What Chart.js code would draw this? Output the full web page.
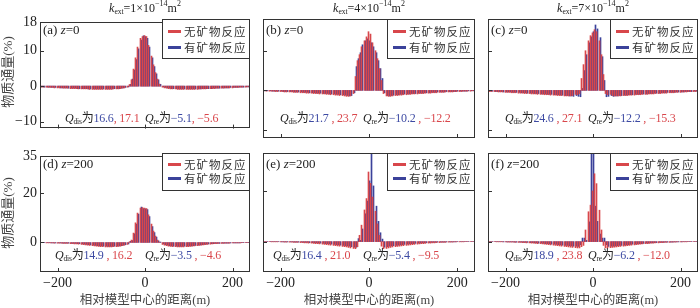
<!DOCTYPE html>
<html>
<head>
<meta charset="utf-8">
<script src="https://cdn.jsdelivr.net/npm/chart.js@4"></script>
<style>
  body { margin: 0; background: #fff; }
  #wrap { position: relative; width: 700px; height: 308px; overflow: hidden; background: #fff; }
  canvas { position: absolute; }
  .txt { position: absolute; white-space: nowrap; color: #222;
         font-family: 'Liberation Serif', 'Noto Sans CJK SC', serif; }
  .sub { font-size: 7.5px; vertical-align: -2px; line-height: 0; }
  .sup { font-size: 8px; vertical-align: 6px; line-height: 0; }
  .legend { position: absolute; box-sizing: border-box; border: 1px solid #333; background: #fff; }
  .sw { position: absolute; width: 13px; height: 3px; }
  .lt { position: absolute; font-family: 'Noto Sans CJK SC', sans-serif; font-size: 11.5px;
        letter-spacing: 1px; line-height: 14px; color: #333; white-space: nowrap; }
  .b { color: #3d4aa3; }
  .r { color: #d9464b; }
  .q { letter-spacing: -0.2px; }
</style>
</head>
<body>
<div id="wrap"></div>
<script>
// distance from model centre (m), one bar pair per position
const dist = [
  -240,-235,-230,-225,-220,-215,-210,-205,-200,-195,
  -190,-185,-180,-175,-170,-165,-160,-155,-150,-145,
  -140,-135,-130,-125,-120,-115,-110,-105,-100,-95,
  -90,-85,-80,-75,-70,-65,-60,-55,-50,-45,
  -40,-35,-30,-25,-20,-15,-10,-5,0,5,
  10,15,20,25,30,35,40,45,50,55,
  60,65,70,75,80,85,90,95,100,105,
  110,115,120,125,130,135,140,145,150,155,
  160,165,170,175,180,185,190,195,200,205,
  210,215,220,225,230,235,240
];

// (a) k=1e-14, z=0
const aBlue = [
  -0.2,-0.2,-0.3,-0.3,-0.3,-0.4,-0.4,-0.4,-0.4,-0.5,
  -0.5,-0.5,-0.5,-0.6,-0.6,-0.6,-0.6,-0.7,-0.7,-0.7,
  -0.7,-0.7,-0.8,-0.8,-0.8,-0.8,-0.8,-0.8,-0.8,-0.8,
  -0.8,-0.8,-0.8,-0.8,-0.7,-0.7,-0.7,-0.6,-0.5,-0.4,
  -0.2,0.5,2.0,4.5,7.5,10.5,13.0,14.2,14.0,13.5,
  11.0,8.0,5.5,3.5,1.8,0.5,-0.2,-0.4,-0.5,-0.6,
  -0.7,-0.7,-0.7,-0.8,-0.8,-0.8,-0.8,-0.8,-0.8,-0.8,
  -0.8,-0.8,-0.8,-0.8,-0.7,-0.7,-0.7,-0.7,-0.7,-0.6,
  -0.6,-0.6,-0.6,-0.5,-0.5,-0.5,-0.5,-0.4,-0.4,-0.4,
  -0.4,-0.3,-0.3,-0.3,-0.2,-0.2,-0.2
];
const aRed = [
  -0.2,-0.3,-0.3,-0.3,-0.4,-0.4,-0.4,-0.5,-0.5,-0.5,
  -0.5,-0.6,-0.6,-0.6,-0.7,-0.7,-0.7,-0.7,-0.8,-0.8,
  -0.8,-0.8,-0.8,-0.9,-0.9,-0.9,-0.9,-0.9,-0.9,-0.9,
  -0.9,-0.9,-0.9,-0.9,-0.8,-0.8,-0.8,-0.7,-0.6,-0.5,
  -0.3,0.4,1.8,4.8,8.0,11.0,13.5,14.0,14.3,14.0,
  11.5,8.5,6.0,3.8,2.0,0.6,-0.3,-0.5,-0.6,-0.7,
  -0.8,-0.8,-0.8,-0.9,-0.9,-0.9,-0.9,-0.9,-0.9,-0.9,
  -0.9,-0.9,-0.9,-0.8,-0.8,-0.8,-0.8,-0.7,-0.7,-0.7,
  -0.7,-0.6,-0.6,-0.6,-0.6,-0.5,-0.5,-0.5,-0.5,-0.4,
  -0.4,-0.4,-0.3,-0.3,-0.3,-0.2,-0.2
];

// (b) k=4e-14, z=0
const bBlue = [
  -0.1,-0.1,-0.1,-0.1,-0.2,-0.2,-0.2,-0.2,-0.2,-0.3,
  -0.3,-0.3,-0.3,-0.3,-0.4,-0.4,-0.4,-0.4,-0.5,-0.5,
  -0.5,-0.6,-0.6,-0.6,-0.7,-0.7,-0.7,-0.8,-0.8,-0.8,
  -0.9,-0.9,-0.9,-1.0,-1.0,-1.1,-1.1,-1.2,-1.3,-1.4,
  -1.3,-0.6,6.0,8.0,9.5,11.5,12.5,13.0,12.5,12.0,
  11.0,9.5,7.5,5.5,3.0,-0.6,-1.3,-1.4,-1.3,-1.2,
  -1.1,-1.1,-1.0,-1.0,-0.9,-0.9,-0.9,-0.8,-0.8,-0.8,
  -0.7,-0.7,-0.7,-0.6,-0.6,-0.6,-0.5,-0.5,-0.5,-0.4,
  -0.4,-0.4,-0.4,-0.3,-0.3,-0.3,-0.3,-0.3,-0.2,-0.2,
  -0.2,-0.2,-0.2,-0.1,-0.1,-0.1,-0.1
];
const bRed = [
  -0.1,-0.1,-0.2,-0.2,-0.2,-0.2,-0.3,-0.3,-0.3,-0.3,
  -0.4,-0.4,-0.4,-0.4,-0.5,-0.5,-0.5,-0.6,-0.6,-0.6,
  -0.7,-0.7,-0.7,-0.8,-0.8,-0.8,-0.9,-0.9,-0.9,-1.0,
  -1.0,-1.1,-1.1,-1.2,-1.2,-1.3,-1.3,-1.4,-1.5,-1.5,
  -1.4,-0.8,3.5,7.5,9.0,11.0,12.5,13.5,14.8,14.2,
  12.0,10.0,8.0,5.5,2.5,-0.8,-1.4,-1.5,-1.5,-1.4,
  -1.3,-1.3,-1.2,-1.2,-1.1,-1.1,-1.0,-1.0,-0.9,-0.9,
  -0.9,-0.8,-0.8,-0.8,-0.7,-0.7,-0.7,-0.6,-0.6,-0.6,
  -0.5,-0.5,-0.5,-0.4,-0.4,-0.4,-0.4,-0.3,-0.3,-0.3,
  -0.3,-0.2,-0.2,-0.2,-0.2,-0.1,-0.1
];

// (c) k=7e-14, z=0
const cBlue = [
  -0.2,-0.2,-0.2,-0.3,-0.3,-0.3,-0.3,-0.4,-0.4,-0.4,
  -0.4,-0.5,-0.5,-0.5,-0.5,-0.6,-0.6,-0.6,-0.7,-0.7,
  -0.7,-0.8,-0.8,-0.8,-0.9,-0.9,-0.9,-1.0,-1.0,-1.0,
  -1.1,-1.1,-1.1,-1.2,-1.2,-1.3,-1.3,-1.4,-1.4,-1.5,
  -1.3,-1.5,-1.6,0.5,5.0,9.0,12.0,13.5,14.8,16.5,
  15.5,13.3,8.5,2.5,-1.6,-1.5,-1.3,-1.5,-1.4,-1.4,
  -1.3,-1.3,-1.2,-1.2,-1.1,-1.1,-1.1,-1.0,-1.0,-1.0,
  -0.9,-0.9,-0.9,-0.8,-0.8,-0.8,-0.7,-0.7,-0.7,-0.6,
  -0.6,-0.6,-0.5,-0.5,-0.5,-0.5,-0.4,-0.4,-0.4,-0.4,
  -0.3,-0.3,-0.3,-0.3,-0.2,-0.2,-0.2
];
const cRed = [
  -0.2,-0.3,-0.3,-0.3,-0.3,-0.4,-0.4,-0.4,-0.5,-0.5,
  -0.5,-0.6,-0.6,-0.6,-0.7,-0.7,-0.7,-0.8,-0.8,-0.8,
  -0.9,-0.9,-0.9,-1.0,-1.0,-1.0,-1.1,-1.1,-1.1,-1.2,
  -1.2,-1.2,-1.3,-1.3,-1.3,-1.4,-1.4,-1.4,-1.4,-1.3,
  -1.0,-1.1,-0.8,3.0,6.5,10.0,12.5,13.8,14.5,15.3,
  14.8,12.5,9.0,4.0,-0.8,-1.1,-1.0,-1.3,-1.4,-1.4,
  -1.4,-1.4,-1.3,-1.3,-1.3,-1.2,-1.2,-1.2,-1.1,-1.1,
  -1.1,-1.0,-1.0,-1.0,-0.9,-0.9,-0.9,-0.8,-0.8,-0.8,
  -0.7,-0.7,-0.7,-0.6,-0.6,-0.6,-0.5,-0.5,-0.5,-0.4,
  -0.4,-0.4,-0.3,-0.3,-0.3,-0.3,-0.2
];

// (d) k=1e-14, z=200
const dBlue = [
  -0.1,-0.1,-0.1,-0.1,-0.1,-0.2,-0.2,-0.2,-0.2,-0.2,
  -0.3,-0.3,-0.3,-0.3,-0.4,-0.4,-0.4,-0.5,-0.5,-0.6,
  -0.7,-0.8,-0.9,-1.0,-1.1,-1.2,-1.3,-1.4,-1.4,-1.5,
  -1.5,-1.6,-1.6,-1.6,-1.5,-1.5,-1.4,-1.3,-1.1,-0.9,
  -0.6,0.5,0.8,3.5,7.5,11.5,14.4,13.8,13.7,13.4,
  10.5,6.5,4.0,2.2,0.7,0.2,-0.6,-0.9,-1.1,-1.3,
  -1.4,-1.5,-1.5,-1.6,-1.6,-1.6,-1.5,-1.5,-1.4,-1.4,
  -1.3,-1.2,-1.1,-1.0,-0.9,-0.8,-0.7,-0.6,-0.5,-0.5,
  -0.4,-0.4,-0.4,-0.3,-0.3,-0.3,-0.3,-0.2,-0.2,-0.2,
  -0.2,-0.2,-0.1,-0.1,-0.1,-0.1,-0.1
];
const dRed = [
  -0.1,-0.1,-0.1,-0.2,-0.2,-0.2,-0.2,-0.3,-0.3,-0.3,
  -0.3,-0.4,-0.4,-0.4,-0.5,-0.5,-0.6,-0.6,-0.7,-0.8,
  -0.9,-1.0,-1.1,-1.2,-1.3,-1.4,-1.5,-1.6,-1.7,-1.7,
  -1.8,-1.8,-1.8,-1.8,-1.7,-1.7,-1.6,-1.5,-1.3,-1.1,
  -0.8,0.3,1.0,3.8,8.0,12.0,14.0,14.2,14.0,13.8,
  11.2,7.5,4.6,2.6,1.0,0.2,-0.8,-1.1,-1.3,-1.5,
  -1.6,-1.7,-1.7,-1.8,-1.8,-1.8,-1.8,-1.7,-1.7,-1.6,
  -1.5,-1.4,-1.3,-1.2,-1.1,-1.0,-0.9,-0.8,-0.7,-0.6,
  -0.5,-0.5,-0.4,-0.4,-0.4,-0.3,-0.3,-0.3,-0.2,-0.2,
  -0.2,-0.2,-0.2,-0.1,-0.1,-0.1,-0.1
];

// (e) k=4e-14, z=200
const eBlue = [
  0,0,0,0,0,0,0,0,-0.1,-0.1,
  -0.1,-0.1,-0.1,-0.1,-0.2,-0.2,-0.2,-0.2,-0.3,-0.3,
  -0.3,-0.4,-0.4,-0.5,-0.5,-0.6,-0.6,-0.7,-0.8,-0.8,
  -0.9,-1.0,-1.1,-1.2,-1.3,-1.4,-1.5,-1.6,-1.7,-1.8,
  -2.0,-2.2,-2.2,1.2,0.5,5.0,11.0,16.0,24.0,36.0,
  22.0,14.0,8.0,3.5,1.0,-2.2,-2.0,-1.8,-1.7,-1.6,
  -1.5,-1.4,-1.3,-1.2,-1.1,-1.0,-0.9,-0.8,-0.8,-0.7,
  -0.6,-0.6,-0.5,-0.5,-0.4,-0.4,-0.3,-0.3,-0.3,-0.2,
  -0.2,-0.2,-0.2,-0.1,-0.1,-0.1,-0.1,-0.1,0,0,
  0,0,0,0,0,0,0
];
const eRed = [
  0,0,0,0,-0.1,-0.1,-0.1,-0.1,-0.1,-0.1,
  -0.2,-0.2,-0.2,-0.2,-0.3,-0.3,-0.3,-0.4,-0.4,-0.5,
  -0.5,-0.6,-0.6,-0.7,-0.8,-0.8,-0.9,-1.0,-1.1,-1.2,
  -1.3,-1.4,-1.5,-1.6,-1.7,-1.8,-1.9,-2.0,-2.1,-2.3,
  -2.5,-2.7,-2.8,-2.0,2.5,6.5,12.5,17.0,27.5,23.0,
  17.6,12.0,7.0,2.5,-1.8,-2.8,-2.7,-2.5,-2.3,-2.1,
  -2.0,-1.9,-1.8,-1.7,-1.6,-1.5,-1.4,-1.3,-1.2,-1.1,
  -1.0,-0.9,-0.8,-0.8,-0.7,-0.6,-0.6,-0.5,-0.5,-0.4,
  -0.4,-0.3,-0.3,-0.3,-0.2,-0.2,-0.2,-0.1,-0.1,-0.1,
  -0.1,-0.1,0,0,0,0,0
];

// (f) k=7e-14, z=200
const fBlue = [
  0,0,0,0,0,0,0,-0.1,-0.1,-0.1,
  -0.1,-0.1,-0.2,-0.2,-0.2,-0.2,-0.3,-0.3,-0.3,-0.4,
  -0.4,-0.5,-0.5,-0.6,-0.6,-0.7,-0.8,-0.8,-0.9,-1.0,
  -1.0,-1.1,-1.2,-1.3,-1.4,-1.5,-1.5,-1.6,-1.7,-1.8,
  -1.8,-1.9,-1.2,1.4,1.4,0.5,7.8,36.0,36.0,14.0,
  8.0,3.0,1.4,1.4,-1.2,-1.9,-1.8,-1.8,-1.7,-1.6,
  -1.5,-1.5,-1.4,-1.3,-1.2,-1.1,-1.0,-1.0,-0.9,-0.8,
  -0.8,-0.7,-0.6,-0.6,-0.5,-0.5,-0.4,-0.4,-0.3,-0.3,
  -0.3,-0.2,-0.2,-0.2,-0.2,-0.1,-0.1,-0.1,-0.1,0,
  0,0,0,0,0,0,0
];
const fRed = [
  0,0,0,0,-0.1,-0.1,-0.1,-0.1,-0.1,-0.2,
  -0.2,-0.2,-0.2,-0.3,-0.3,-0.3,-0.4,-0.4,-0.5,-0.5,
  -0.6,-0.6,-0.7,-0.8,-0.8,-0.9,-1.0,-1.1,-1.2,-1.3,
  -1.4,-1.5,-1.6,-1.7,-1.8,-1.9,-2.0,-2.1,-2.2,-2.3,
  -2.4,-2.5,-2.5,-2.0,-1.5,4.6,11.8,14.4,20.0,26.8,
  22.9,12.4,4.6,-1.5,-2.5,-2.5,-2.4,-2.3,-2.2,-2.1,
  -2.0,-1.9,-1.8,-1.7,-1.6,-1.5,-1.4,-1.3,-1.2,-1.1,
  -1.0,-0.9,-0.8,-0.8,-0.7,-0.6,-0.6,-0.5,-0.5,-0.4,
  -0.4,-0.3,-0.3,-0.3,-0.2,-0.2,-0.2,-0.1,-0.1,-0.1,
  -0.1,-0.1,0,0,0,0,0
];

// axis ticks
const xTicks = [-200, 0, 200];
const yTicksTop = [-10, 0, 10, 18];
const yTicksBottom = [0, 20, 35];

// text labels
const seriesNames = ['无矿物反应', '有矿物反应'];
const kLabels = ['1', '4', '7'];
const panelNames = ['(a)', '(b)', '(c)', '(d)', '(e)', '(f)'];
const zValues = ['0', '0', '0', '200', '200', '200'];
const qdisBlue = ['16.6', '21.7', '24.6', '14.9', '16.4', '18.9'];
const qdisRed = [', 17.1', ' , 23.7', ' , 27.1', ' , 16.2', ' , 21.0', ' , 23.8'];
const qreBlue = ['−5.1', '−10.2', '−12.2', '−3.5', '−5.4', '−6.2'];
const qreRed = [', −5.6', ' , −12.2', ' , −15.3', ' , −4.6', ' , −9.5', ' , −12.0'];

const blues = [aBlue, bBlue, cBlue, dBlue, eBlue, fBlue];
const reds = [aRed, bRed, cRed, dRed, eRed, fRed];

const RED = '#d8474b';
const BLUE = '#3b429a';
const SERIF = "'Liberation Serif', 'Times New Roman', serif";

// layout of the plot boxes
const colX0 = [40, 263, 488], colX1 = [250, 475, 698];
const rowY0 = [19, 153], rowY1 = [138, 272];
const qdisX = [65, 280, 505, 55, 273, 505];
const qreX = [145, 363, 588, 145, 363, 588];
const qY = [118, 255];

const wrap = document.getElementById('wrap');

function addText(html, style, cls) {
    const d = document.createElement('div');
    d.className = cls || 'txt';
    d.innerHTML = html;
    Object.assign(d.style, style);
    wrap.appendChild(d);
    return d;
}

function minus(v) {
    return String(v).replace('-', '−');
}

// snap each red/blue pair onto whole pixels so the thin bars alternate cleanly
const snap = {
    id: 'snap',
    beforeDatasetsDraw(chart) {
        chart.data.datasets.forEach((ds, k) => {
            chart.getDatasetMeta(k).data.forEach(el => {
                const c = k === 0 ? Math.round(el.x + el.width / 2) : Math.round(el.x - el.width / 2);
                el.x = k === 0 ? c - 0.5 : c + 0.5;
                el.width = 1;
            });
        });
    }
};

// border + inward tick marks
const frame = {
    id: 'frame',
    afterDraw(chart) {
        const { ctx, chartArea: a, scales } = chart;
        const yt = chart.options.plugins.frame.yTicks;
        ctx.save();
        ctx.strokeStyle = '#333';
        ctx.lineWidth = 1;
        ctx.strokeRect(Math.round(a.left) + 0.5, Math.round(a.top) + 0.5,
            Math.round(a.right - a.left) - 1, Math.round(a.bottom - a.top) - 1);
        ctx.beginPath();
        yt.forEach(v => {
            const py = Math.round(scales.y.getPixelForValue(v)) + 0.5;
            if (py < a.top + 2) return;
            ctx.moveTo(a.left, py);
            ctx.lineTo(a.left + 4, py);
        });
        xTicks.forEach(v => {
            const px = Math.round(scales.x.getPixelForValue(v)) + 0.5;
            ctx.moveTo(px, a.bottom);
            ctx.lineTo(px, a.bottom - 4);
        });
        ctx.stroke();
        ctx.restore();
    }
};

for (let p = 0; p < 6; p++) {
    const col = p % 3, row = Math.floor(p / 3);
    const x0 = colX0[col], x1 = colX1[col], y0 = rowY0[row], y1 = rowY1[row];
    const showY = col === 0, showX = row === 1;
    const yW = showY ? 38 : 0, xH = showX ? 20 : 0;
    const yt = row === 0 ? yTicksTop : yTicksBottom;

    const canvas = document.createElement('canvas');
    const w = (x1 - x0) + yW + 4, h = (y1 - y0) + 10 + xH;
    canvas.width = w; canvas.height = h;
    canvas.style.left = (x0 - yW - 2) + 'px';
    canvas.style.top = (y0 - 8) + 'px';
    canvas.style.width = w + 'px'; canvas.style.height = h + 'px';
    wrap.appendChild(canvas);

    const mk = (arr) => dist.map((d, i) => ({ x: d, y: arr[i] }));

    new Chart(canvas, {
        type: 'bar',
        data: {
            datasets: [
                { data: mk(reds[p]), backgroundColor: RED, barPercentage: 1, categoryPercentage: 1, borderWidth: 0, clip: 0 },
                { data: mk(blues[p]), backgroundColor: BLUE, barPercentage: 1, categoryPercentage: 1, borderWidth: 0, clip: 0 }
            ]
        },
        options: {
            responsive: false,
            animation: false,
            devicePixelRatio: 1,
            layout: { autoPadding: false, padding: { left: 2, right: 2, top: 8, bottom: 2 } },
            plugins: { legend: { display: false }, tooltip: { enabled: false }, frame: { yTicks: yt } },
            scales: {
                x: {
                    type: 'linear', min: -240, max: 240, offset: false, display: showX,
                    grid: { display: false, drawTicks: false }, border: { display: false },
                    afterBuildTicks: s => { s.ticks = xTicks.map(v => ({ value: v })); },
                    afterFit: s => { s.height = xH; },
                    ticks: { padding: 3, maxRotation: 0, autoSkip: false, color: '#222',
                             font: { family: SERIF, size: 14 }, callback: v => minus(v) }
                },
                y: {
                    min: -12, max: row === 0 ? 18 : 35, display: showY,
                    grid: { display: false, drawTicks: false }, border: { display: false },
                    afterBuildTicks: s => { s.ticks = yt.map(v => ({ value: v })); },
                    afterFit: s => { s.width = yW; },
                    ticks: { padding: 3, autoSkip: false, color: '#222',
                             font: { family: SERIF, size: 14 }, callback: v => minus(v) }
                }
            }
        },
        plugins: [snap, frame]
    });

    // panel tag
    addText(panelNames[p] + ' <i>z</i>=' + zValues[p],
        { left: (x0 + 3) + 'px', top: (y0 + 3) + 'px', fontSize: '13px', lineHeight: '16px' });

    // legend box
    const lh = row === 0 ? 40 : 38;
    const lg = document.createElement('div');
    lg.className = 'legend';
    Object.assign(lg.style, { left: (x1 - 88) + 'px', top: y0 + 'px', width: '88px', height: lh + 'px' });
    const cys = row === 0 ? [12, 28] : [11, 25];
    [RED, BLUE].forEach((c, k) => {
        const sw = document.createElement('div');
        sw.className = 'sw';
        Object.assign(sw.style, { left: '5px', top: (cys[k] - 2) + 'px', background: c });
        lg.appendChild(sw);
        const t = document.createElement('div');
        t.className = 'lt';
        t.textContent = seriesNames[k];
        Object.assign(t.style, { left: '21px', top: (cys[k] - 8) + 'px' });
        lg.appendChild(t);
    });
    wrap.appendChild(lg);

    // Q annotations
    const qt = (qY[row] - 8) + 'px';
    addText('<i>Q</i><span class="sub">dis</span>为<span class="b">' + qdisBlue[p] +
        '</span><span class="r">' + qdisRed[p] + '</span>',
        { left: qdisX[p] + 'px', top: qt, fontSize: '12px', lineHeight: '16px' }, 'txt q');
    addText('<i>Q</i><span class="sub">re</span>为<span class="b">' + qreBlue[p] +
        '</span><span class="r">' + qreRed[p] + '</span>',
        { left: qreX[p] + 'px', top: qt, fontSize: '12px', lineHeight: '16px' }, 'txt q');
}

// column titles and x axis titles
for (let c = 0; c < 3; c++) {
    const cx = (colX0[c] + colX1[c]) / 2;
    addText('<i>k</i><span class="sub">ext</span>=' + kLabels[c] + '×10<span class="sup">−14</span>m<span class="sup">2</span>',
        { left: (cx - 80) + 'px', top: '0px', width: '160px', textAlign: 'center', fontSize: '12px', lineHeight: '16px' });
    addText('相对模型中心的距离(m)',
        { left: (cx - 80) + 'px', top: '292px', width: '160px', textAlign: 'center', fontSize: '12.5px',
          lineHeight: '16px', color: '#444' });
}

// y axis titles
[72, 213].forEach(cy => {
    addText('物质通量(%)',
        { left: (8 - 50) + 'px', top: (cy - 8) + 'px', width: '100px', textAlign: 'center', fontSize: '13px',
          lineHeight: '16px', transform: 'rotate(-90deg)', color: '#444' });
});
</script>
</body>
</html>
